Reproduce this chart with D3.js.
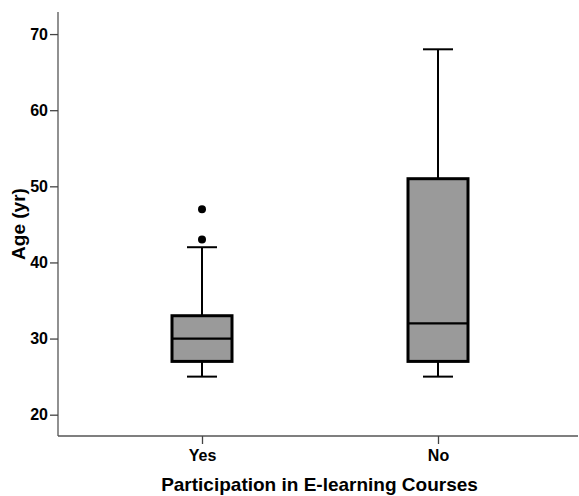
<!DOCTYPE html>
<html>
<head>
<meta charset="utf-8">
<script src="https://cdn.jsdelivr.net/npm/d3@7"></script>
<style>
  html, body { margin: 0; padding: 0; background: #fff; }
  svg { display: block; }
  text { font-family: "Liberation Sans", Arial, sans-serif; font-weight: bold; fill: #000; }
</style>
</head>
<body>
<svg id="chart" width="579" height="496"></svg>
<script>
// ---- data ----
const categories = ["Yes", "No"];
const whiskerLow  = [25, 25];
const q1          = [27, 27];
const medians     = [30, 32];
const q3          = [33, 51];
const whiskerHigh = [42, 68];
const outliers    = [[43, 47], []];
const yTicks      = [20, 30, 40, 50, 60, 70];
const xTitle = "Participation in E-learning Courses";
const yTitle = "Age (yr)";

(function () {
const svg = d3.select("#chart");
const pLeft = 58, pRight = 578, pTop = 12, pBottom = 436;

const y = d3.scaleLinear().domain([17.2, 72.9]).range([pBottom, pTop]);
const x = d3.scalePoint().domain(categories).range([202, 438]);

// axes lines
svg.append("line").attr("x1", pLeft).attr("x2", pLeft).attr("y1", pTop).attr("y2", pBottom)
  .attr("stroke", "#555").attr("stroke-width", 1.3);
svg.append("line").attr("x1", pLeft).attr("x2", pRight).attr("y1", pBottom).attr("y2", pBottom)
  .attr("stroke", "#555").attr("stroke-width", 1.3);

const yAxis = svg.append("g").attr("transform", `translate(${pLeft},0)`)
  .call(d3.axisLeft(y).tickValues(yTicks).tickSize(8).tickPadding(2).tickFormat(d3.format("d")));
yAxis.select(".domain").remove();
yAxis.selectAll(".tick line").attr("stroke", "#444").attr("stroke-width", 1.3);
yAxis.selectAll(".tick text").style("font-size", "16px").style("font-family", "'Liberation Sans', Arial, sans-serif").style("font-weight", "bold").attr("fill", "#000");

const xAxis = svg.append("g").attr("transform", `translate(0,${pBottom})`)
  .call(d3.axisBottom(x).tickSize(8).tickPadding(6));
xAxis.select(".domain").remove();
xAxis.selectAll(".tick line").attr("stroke", "#444").attr("stroke-width", 1.3);
xAxis.selectAll(".tick text").style("font-size", "16px").style("font-family", "'Liberation Sans', Arial, sans-serif").style("font-weight", "bold").attr("fill", "#000");

// boxes
const boxW = 60, capW = 30;
categories.forEach((c, i) => {
  const cx = x(c);
  const g = svg.append("g");
  g.append("line").attr("x1", cx).attr("x2", cx).attr("y1", y(q3[i])).attr("y2", y(whiskerHigh[i]))
    .attr("stroke", "#000").attr("stroke-width", 2);
  g.append("line").attr("x1", cx).attr("x2", cx).attr("y1", y(q1[i])).attr("y2", y(whiskerLow[i]))
    .attr("stroke", "#000").attr("stroke-width", 2);
  g.append("line").attr("x1", cx - capW/2).attr("x2", cx + capW/2).attr("y1", y(whiskerHigh[i])).attr("y2", y(whiskerHigh[i]))
    .attr("stroke", "#000").attr("stroke-width", 2);
  g.append("line").attr("x1", cx - capW/2).attr("x2", cx + capW/2).attr("y1", y(whiskerLow[i])).attr("y2", y(whiskerLow[i]))
    .attr("stroke", "#000").attr("stroke-width", 2);
  g.append("rect").attr("x", cx - boxW/2).attr("width", boxW)
    .attr("y", y(q3[i])).attr("height", y(q1[i]) - y(q3[i]))
    .attr("fill", "#9a9a9a").attr("stroke", "#000").attr("stroke-width", 3);
  g.append("line").attr("x1", cx - boxW/2).attr("x2", cx + boxW/2).attr("y1", y(medians[i])).attr("y2", y(medians[i]))
    .attr("stroke", "#000").attr("stroke-width", 2.2);
  outliers[i].forEach(v => {
    g.append("circle").attr("cx", cx).attr("cy", y(v)).attr("r", 4).attr("fill", "#000");
  });
});

svg.append("text").attr("x", 319.5).attr("y", 491).attr("text-anchor", "middle")
  .style("font-size", "19px").text(xTitle);
svg.append("text").attr("transform", `translate(25,${(pTop + pBottom) / 2}) rotate(-90)`)
  .attr("text-anchor", "middle").style("font-size", "19px").text(yTitle);
})();
</script>
</body>
</html>
